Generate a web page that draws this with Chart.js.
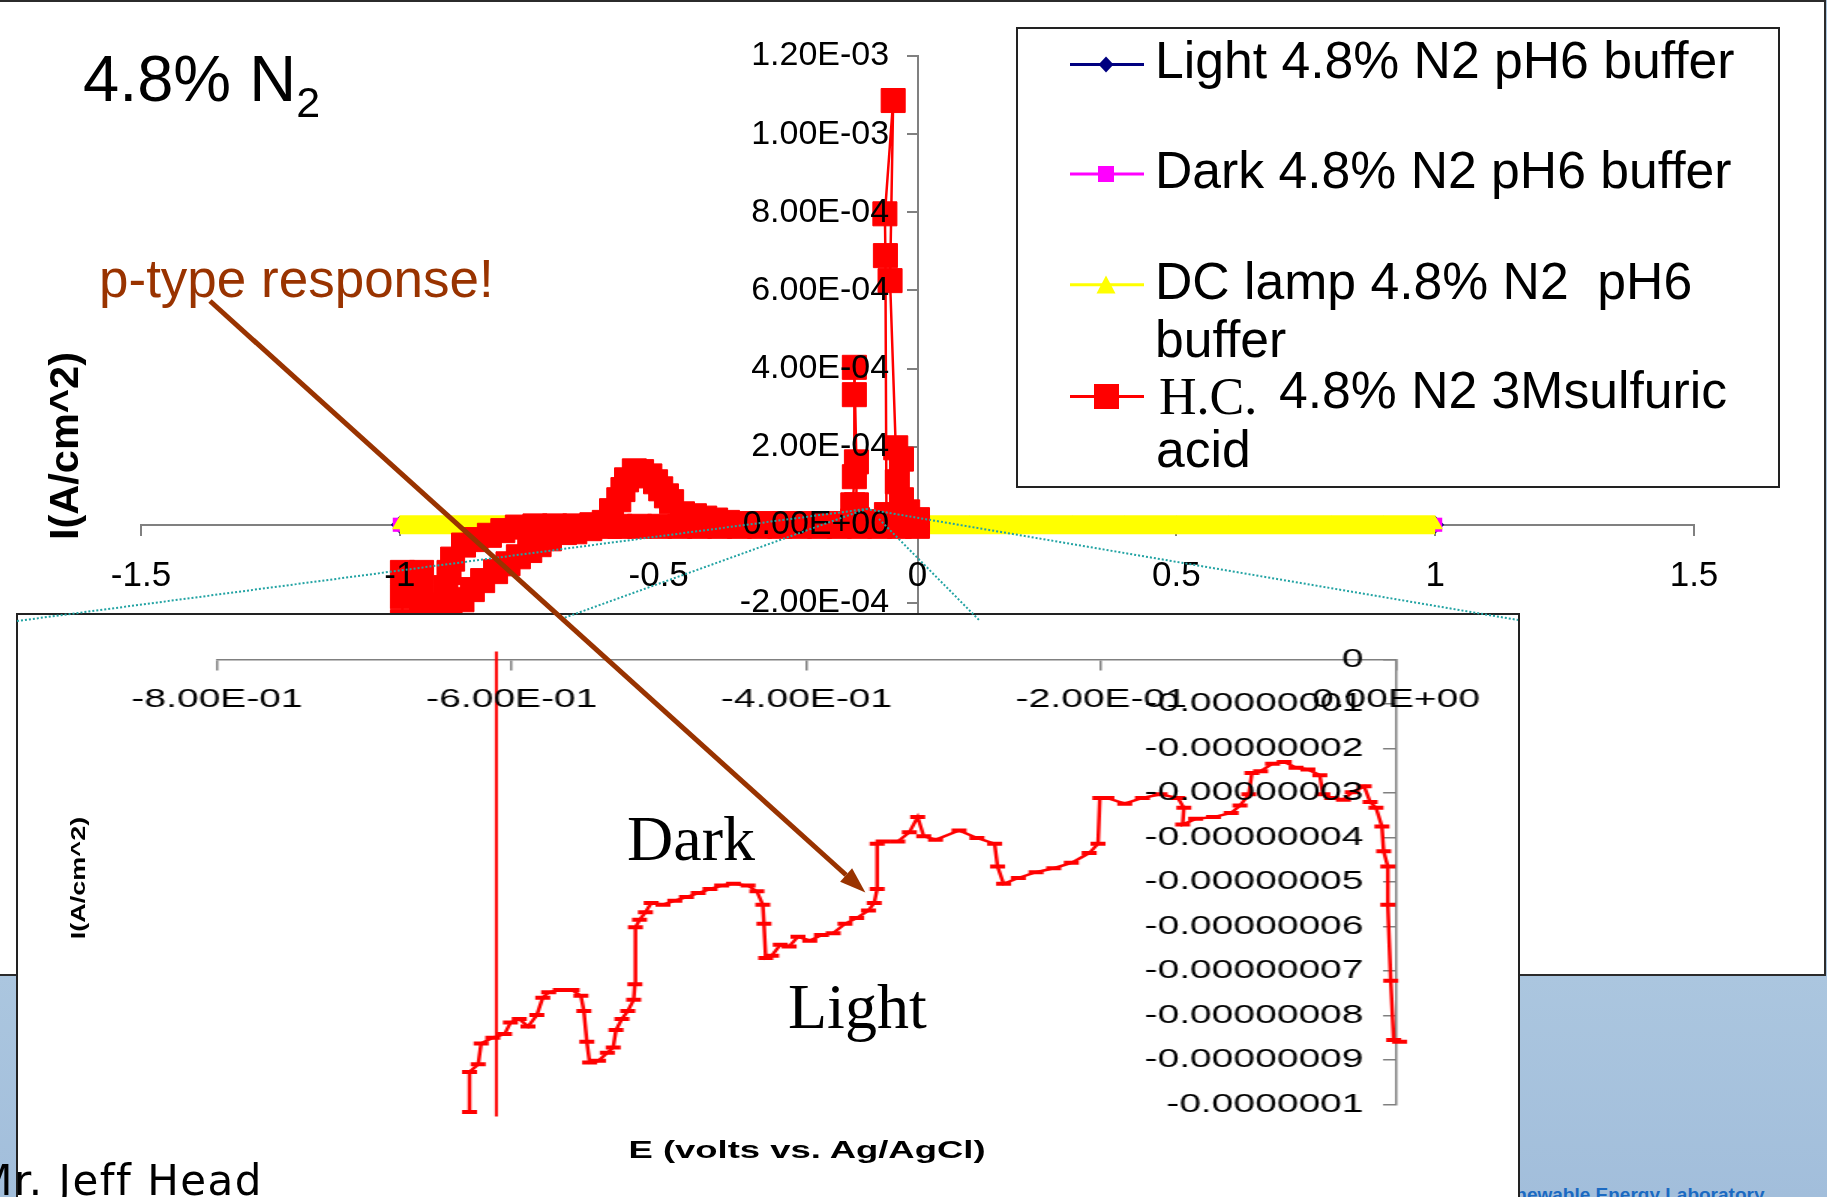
<!DOCTYPE html>
<html lang="en">
<head>
<meta charset="utf-8">
<title>4.8% N2 - I vs E</title>
<script src="https://cdn.jsdelivr.net/npm/chart.js@4.4.1/dist/chart.umd.min.js"></script>
<style>
  html, body { margin: 0; padding: 0; }
  body {
    width: 1827px; height: 1197px; position: relative; overflow: hidden;
    background: linear-gradient(to bottom, #abc6df 975px, #a2bedb 1197px);
    font-family: "Liberation Sans", Arial, sans-serif; color: #000;
  }
  .abs { position: absolute; white-space: pre; line-height: 1; }
  .serif { font-family: "Liberation Serif", "Times New Roman", serif; }
  #slide { position: absolute; left: -2px; top: 0; width: 1828px; height: 976px; box-sizing: border-box; background: #fff; border: 2px solid #2b2b2b; }
  #mainWrap { position: absolute; left: 0; top: 0; width: 1827px; height: 1197px; }
  #legendBox { position: absolute; left: 1016px; top: 27px; width: 764px; height: 461px; box-sizing: border-box; border: 2px solid #222; }
  #inset { position: absolute; left: 16px; top: 613px; width: 1504px; height: 600px; box-sizing: border-box; background: #fff; border: 2px solid #222; }
  #insetInner { position: absolute; left: 0; top: 0; width: 1000px; height: 580px; transform: scaleX(1.5); transform-origin: 0 0; }
  svg.overlay { position: absolute; left: 0; top: 0; }
  .leg { font-size: 51.7px; }
</style>
</head>
<body>

<div id="slide"></div>
<div class="abs" style="left:1491px;top:1185px;font-size:19px;font-weight:bold;color:#1b6ac2;">Renewable Energy Laboratory</div>

<div id="mainWrap"><canvas id="mainChart" width="1827" height="1197"></canvas></div>

<div class="abs" style="left:83px;top:46px;font-size:65px;">4.8% N<span style="font-size:43px;position:relative;top:16px;">2</span></div>
<div class="abs" style="left:99px;top:252px;font-size:53px;color:#993300;">p-type response!</div>
<div class="abs" style="left:-86px;top:421px;width:300px;height:50px;line-height:50px;text-align:center;font-size:41.5px;font-weight:bold;transform:rotate(-90deg);">I(A/cm^2)</div>

<!-- legend -->
<div id="legendBox"></div>
<div class="abs leg" style="left:1155px;top:35px;">Light 4.8% N2 pH6 buffer</div>
<div class="abs leg" style="left:1155px;top:145px;">Dark 4.8% N2 pH6 buffer</div>
<div class="abs leg" style="left:1155px;top:256px;">DC lamp 4.8% N2  pH6</div>
<div class="abs leg" style="left:1155px;top:314px;">buffer</div>
<div class="abs serif" style="left:1159px;top:371px;font-size:52px;">H.C.</div>
<div class="abs leg" style="left:1279px;top:365px;">4.8% N2 3Msulfuric</div>
<div class="abs leg" style="left:1156px;top:424px;">acid</div>

<svg class="overlay" width="1827" height="1197">
  <!-- legend symbols -->
  <line x1="1070" y1="64.5" x2="1144" y2="64.5" stroke="#000080" stroke-width="3"/>
  <polygon points="1106,56.5 1113.5,64.5 1106,72.5 1098.5,64.5" fill="#000080"/>
  <line x1="1070" y1="174" x2="1144" y2="174" stroke="#ff00ff" stroke-width="3"/>
  <rect x="1098" y="166" width="16" height="16" fill="#ff00ff"/>
  <line x1="1070" y1="284.7" x2="1144" y2="284.7" stroke="#ffff00" stroke-width="3"/>
  <polygon points="1106,275.5 1115.5,293.5 1096.5,293.5" fill="#ffff00"/>
  <line x1="1070" y1="396.6" x2="1144" y2="396.6" stroke="#ff0000" stroke-width="3"/>
  <rect x="1094" y="384" width="25" height="25" fill="#ff0000"/>
</svg>

<div id="inset">
  <div id="insetInner">
    <canvas id="insetChart" width="1000" height="580"></canvas>
    <div class="abs" style="left:326px;top:523px;width:400px;text-align:center;font-size:24.3px;font-weight:bold;">E (volts vs. Ag/AgCl)</div>
  </div>
</div>
<div class="abs" style="left:-22px;top:863px;width:200px;height:30px;line-height:30px;text-align:center;font-size:20px;font-weight:bold;transform:rotate(-90deg) scale(1.35,1);">I(A/cm^2)</div>
<div class="abs serif" style="left:627px;top:807px;font-size:64px;">Dark</div>
<div class="abs serif" style="left:788px;top:975px;font-size:64px;">Light</div>

<svg class="overlay" width="1827" height="1197">
  <!-- zoom callout lines, drawn over the inset edge -->
  <g stroke="#22a3a3" stroke-width="2" stroke-dasharray="2 2" fill="none">
    <line x1="17" y1="621" x2="866" y2="509"/>
    <line x1="561" y1="619" x2="866" y2="509"/>
    <line x1="866" y1="509" x2="1518" y2="620"/>
    <line x1="879" y1="519" x2="979" y2="620"/>
  </g>
  <line x1="210" y1="301" x2="846.1" y2="875" stroke="#993300" stroke-width="5"/>
  <polygon points="865.4,892.4 840.1,881.7 852.1,868.3" fill="#993300"/>
</svg>

<div class="abs" style="left:-60px;top:1160px;width:323px;text-align:right;font-size:42px;letter-spacing:1.5px;font-family:'Comic Sans MS','DejaVu Sans',sans-serif;">Mr. Jeff Head</div>

<script>
// ---------- tick labels ----------
const mainXTicks = ['-1.5', '-1', '-0.5', '0', '0.5', '1', '1.5'];
const mainYTicks = ['-4.00E-04', '-2.00E-04', '0.00E+00', '2.00E-04', '4.00E-04',
                    '6.00E-04', '8.00E-04', '1.00E-03', '1.20E-03'];
const insetXTicks = ['-8.00E-01', '-6.00E-01', '-4.00E-01', '-2.00E-01', '0.00E+00'];
const insetYTicks = ['0', '-0.00000001', '-0.00000002', '-0.00000003', '-0.00000004', '-0.00000005',
                     '-0.00000006', '-0.00000007', '-0.00000008', '-0.00000009', '-0.0000001'];

// ---------- pH6 buffer sweeps (flat at this current scale) ----------
const bufferE = [-1.0, -0.9, -0.8, -0.7, -0.6, -0.5, -0.4, -0.3, -0.2, -0.1, 0.0,
                 0.1, 0.2, 0.3, 0.4, 0.5, 0.6, 0.7, 0.8, 0.9, 1.0];
const lightI  = [0, 0, 0, 0, 0, 0, 0, 0, 0, 0, 0, 0, 0, 0, 0, 0, 0, 0, 0, 0, 0];
const darkI   = [0, 0, 0, 0, 0, 0, 0, 0, 0, 0, 0, 0, 0, 0, 0, 0, 0, 0, 0, 0, 0];
const dcLampI = [0, 0, 0, 0, 0, 0, 0, 0, 0, 0, 0, 0, 0, 0, 0, 0, 0, 0, 0, 0, 0];

// ---------- H.C. 4.8% N2 in 3M sulfuric acid (V, A/cm^2) ----------
const hcE = [0.000, -0.035, -0.073, -0.112, -0.151, -0.189, -0.228, -0.266, -0.305, -0.344,
             -0.382, -0.421, -0.459, -0.498, -0.537, -0.575, -0.595, -0.633, -0.662, -0.682,
             -0.711, -0.731, -0.749, -0.771, -0.791, -0.815, -0.840, -0.860, -0.880, -0.903,
             -0.923, -0.942, -0.969, -0.995, -0.995, -0.995, -0.995, -0.958, -0.958, -0.958,
             -0.942, -0.923, -0.911, -0.905, -0.898, -0.877, -0.853, -0.827, -0.801, -0.773,
             -0.739, -0.701, -0.662, -0.629, -0.605, -0.591, -0.577, -0.569, -0.562, -0.547,
             -0.533, -0.517, -0.506, -0.496, -0.485, -0.475, -0.454, -0.431, -0.411, -0.390,
             -0.367, -0.334, -0.295, -0.257, -0.218, -0.180, -0.141, -0.125, -0.125, -0.122,
             -0.122, -0.122, -0.118, -0.118, -0.116, -0.093, -0.060, -0.062, -0.063, -0.047,
             -0.053, -0.042, -0.031, -0.039, -0.031, -0.019, 0.000];
const hcI = [-0.04e-4, -0.04e-4, -0.04e-4, -0.04e-4, -0.04e-4, -0.04e-4, -0.04e-4, -0.04e-4, -0.04e-4, -0.04e-4,
             -0.04e-4, -0.04e-4, -0.04e-4, -0.04e-4, -0.04e-4, -0.04e-4, -0.04e-4, -0.10e-4, -0.18e-4, -0.20e-4,
             -0.36e-4, -0.51e-4, -0.66e-4, -0.82e-4, -1.00e-4, -1.20e-4, -1.43e-4, -1.66e-4, -1.92e-4, -2.23e-4,
             -2.59e-4, -2.94e-4, -3.25e-4, -3.07e-4, -2.48e-4, -1.84e-4, -1.22e-4, -1.22e-4, -1.84e-4, -2.43e-4,
             -2.94e-4, -2.05e-4, -1.61e-4, -1.22e-4, -0.88e-4, -0.52e-4, -0.38e-4, -0.27e-4, -0.15e-4, -0.06e-4,
             -0.03e-4, -0.03e-4, -0.03e-4, 0.00, 0.06e-4, 0.36e-4, 0.64e-4, 0.90e-4, 1.15e-4, 1.38e-4,
             1.36e-4, 1.25e-4, 1.10e-4, 0.92e-4, 0.74e-4, 0.59e-4, 0.28e-4, 0.23e-4, 0.17e-4, 0.12e-4,
             0.06e-4, 0.03e-4, 0.03e-4, 0.03e-4, 0.03e-4, 0.03e-4, 0.03e-4, 0.10e-4, 0.51e-4, 1.23e-4,
             3.33e-4, 4.03e-4, 1.61e-4, 0.51e-4, 0.13e-4, 0.08e-4, 0.26e-4, 6.89e-4, 7.96e-4, 10.86e-4,
             6.25e-4, 1.97e-4, 1.68e-4, 1.10e-4, 0.64e-4, 0.33e-4, 0.13e-4];

// ---------- inset: zoomed red trace (V, A/cm^2) ----------
const insetE = [-0.6287, -0.6287, -0.6228, -0.6208, -0.6129, -0.6049, -0.6009, -0.5949, -0.5890, -0.5830,
                -0.5790, -0.5750, -0.5671, -0.5591, -0.5531, -0.5511, -0.5491, -0.5472, -0.5412, -0.5352,
                -0.5312, -0.5293, -0.5253, -0.5213, -0.5173, -0.5165, -0.5161, -0.5133, -0.5093, -0.5054,
                -0.4974, -0.4894, -0.4815, -0.4735, -0.4655, -0.4576, -0.4496, -0.4397, -0.4337, -0.4297,
                -0.4289, -0.4277, -0.4237, -0.4178, -0.4118, -0.4058, -0.3978, -0.3899, -0.3819, -0.3739,
                -0.3660, -0.3580, -0.3541, -0.3521, -0.3521, -0.3481, -0.3381, -0.3302, -0.3246, -0.3205,
                -0.3125, -0.2965, -0.2844, -0.2724, -0.2704, -0.2663, -0.2563, -0.2443, -0.2323, -0.2203,
                -0.2082, -0.2022, -0.2010, -0.1962, -0.1841, -0.1721, -0.1601, -0.1480, -0.1440, -0.1448,
                -0.1360, -0.1239, -0.1119, -0.1059, -0.0999, -0.0978, -0.0919, -0.0838, -0.0758, -0.0678,
                -0.0598, -0.0517, -0.0497, -0.0437, -0.0357, -0.0297, -0.0216, -0.0176, -0.0136, -0.0096,
                -0.0084, -0.0056, -0.0056, -0.0036, -0.0016, 0.0024];
const insetI = [-10.17e-8, -9.27e-8, -9.10e-8, -8.63e-8, -8.50e-8, -8.42e-8, -8.16e-8, -8.08e-8, -8.25e-8, -7.99e-8,
                -7.60e-8, -7.48e-8, -7.43e-8, -7.43e-8, -7.56e-8, -7.90e-8, -8.59e-8, -9.06e-8, -9.02e-8, -8.84e-8,
                -8.72e-8, -8.33e-8, -8.08e-8, -7.90e-8, -7.65e-8, -7.30e-8, -6.02e-8, -5.85e-8, -5.68e-8, -5.47e-8,
                -5.51e-8, -5.42e-8, -5.34e-8, -5.25e-8, -5.16e-8, -5.08e-8, -5.04e-8, -5.08e-8, -5.21e-8, -5.51e-8,
                -5.94e-8, -6.71e-8, -6.66e-8, -6.41e-8, -6.45e-8, -6.23e-8, -6.32e-8, -6.19e-8, -6.15e-8, -5.94e-8,
                -5.81e-8, -5.64e-8, -5.47e-8, -5.16e-8, -4.14e-8, -4.09e-8, -4.09e-8, -3.88e-8, -3.54e-8, -3.97e-8,
                -4.05e-8, -3.84e-8, -4.01e-8, -4.14e-8, -4.65e-8, -5.04e-8, -4.91e-8, -4.78e-8, -4.69e-8, -4.57e-8,
                -4.35e-8, -4.14e-8, -3.11e-8, -3.11e-8, -3.24e-8, -3.11e-8, -3.03e-8, -3.11e-8, -3.33e-8, -3.71e-8,
                -3.58e-8, -3.54e-8, -3.45e-8, -3.28e-8, -3.03e-8, -2.55e-8, -2.51e-8, -2.34e-8, -2.30e-8, -2.43e-8,
                -2.47e-8, -2.60e-8, -3.03e-8, -3.11e-8, -3.15e-8, -2.98e-8, -2.85e-8, -3.20e-8, -3.33e-8, -3.75e-8,
                -4.31e-8, -4.65e-8, -5.51e-8, -7.22e-8, -8.55e-8, -8.59e-8];
// vertical red marker line in the inset
const insetMarkE = [-0.6105, -0.6105];
const insetMarkI = [0.2e-8, -10.3e-8];

const SANS = '"Liberation Sans", Arial, sans-serif';
const AXIS_GREY = '#808080';

const pts = (xs, ys) => xs.map((x, i) => ({ x, y: ys[i] }));

// axis crossing the other one at zero; takes no layout room,
// line under the data (border z 0) and labels over it (ticks z 1)
function axisCfg(axis, min, max, step, at, tickLen, lineW, size, pad, fmt) {
  return {
    type: 'linear', axis, min, max, position: at,
    afterFit: s => { if (axis === 'x') s.height = 0; else s.width = 0; },
    ticks: { stepSize: step, color: '#000', font: { family: SANS, size }, padding: pad,
             maxRotation: 0, autoSkip: false, z: 1, callback: fmt },
    grid: { drawOnChartArea: false, tickLength: tickLen, color: AXIS_GREY, lineWidth: lineW },
    border: { color: AXIS_GREY, width: lineW, z: 0 }
  };
}

const commonOpts = {
  responsive: false,
  animation: false,
  devicePixelRatio: 1,
  plugins: { legend: { display: false }, tooltip: { enabled: false } }
};

// ---------- main chart ----------
new Chart(document.getElementById('mainChart'), {
  type: 'scatter',
  data: {
    datasets: [
      { label: 'H.C. 4.8% N2 3Msulfuric acid', data: pts(hcE, hcI), showLine: true, order: 0,
        borderColor: '#ff0000', backgroundColor: '#ff0000', borderWidth: 2.5,
        pointStyle: 'rect', pointRadius: 17, pointBorderWidth: 1, pointBorderColor: '#ff0000' },
      { label: 'DC lamp 4.8% N2  pH6 buffer', data: pts(bufferE, dcLampI), showLine: true, order: 1,
        borderColor: '#ffff00', backgroundColor: '#ffff00', borderWidth: 19, borderCapStyle: 'butt',
        pointStyle: 'triangle', pointRadius: 9, pointBorderWidth: 0 },
      { label: 'Dark 4.8% N2 pH6 buffer', data: pts(bufferE, darkI), showLine: true, order: 2,
        borderColor: '#ff00ff', backgroundColor: '#ff00ff', borderWidth: 3,
        pointStyle: 'rect', pointRadius: 10, pointBorderWidth: 0 },
      { label: 'Light 4.8% N2 pH6 buffer', data: pts(bufferE, lightI), showLine: true, order: 3,
        borderColor: '#000080', backgroundColor: '#000080', borderWidth: 3,
        pointStyle: 'rectRot', pointRadius: 9, pointBorderWidth: 0 }
    ]
  },
  options: Object.assign({}, commonOpts, {
    layout: { autoPadding: false, padding: { left: 141, right: 133, top: 56, bottom: 516 } },
    scales: {
      x: axisCfg('x', -1.5, 1.5, 0.5, { y: 0 }, 10, 2, 35, 21,
                 v => mainXTicks[Math.round((v + 1.5) / 0.5)]),
      y: axisCfg('y', -4e-4, 1.2e-3, 2e-4, { x: 0 }, 10, 2, 34, 0,
                 v => mainYTicks[Math.round((v + 4e-4) / 2e-4)] + '   ')
    }
  })
});

// ---------- inset chart (drawn narrow, stretched 1.5x by CSS like the pasted picture) ----------
new Chart(document.getElementById('insetChart'), {
  type: 'scatter',
  data: {
    datasets: [
      { label: 'inset', data: pts(insetE, insetI), showLine: true,
        borderColor: '#ff0000', backgroundColor: '#ff0000', borderWidth: 2.5,
        pointStyle: 'line', pointRadius: 5, pointBorderWidth: 4, pointBorderColor: '#ff0000',
        clip: { left: 0, top: 8, right: 8, bottom: 12 } },
      { label: 'marker', data: pts(insetMarkE, insetMarkI), showLine: true,
        borderColor: '#ff0000', borderWidth: 2, pointRadius: 0,
        clip: { left: 0, top: 8, right: 8, bottom: 12 } }
    ]
  },
  options: Object.assign({}, commonOpts, {
    layout: { autoPadding: false, padding: { left: 132.7, right: 81.3, top: 44.6, bottom: 90.6 } },
    scales: {
      x: axisCfg('x', -0.8, 0, 0.2, { y: 0 }, 10, 1.5, 26, 15,
                 v => insetXTicks[Math.round((v + 0.8) / 0.2)]),
      y: axisCfg('y', -1e-7, 0, 1e-8, { x: 0 }, 8, 1.5, 26, 0,
                 v => insetYTicks[Math.round(-v / 1e-8)] + '   ')
    }
  })
});
</script>
</body>
</html>
